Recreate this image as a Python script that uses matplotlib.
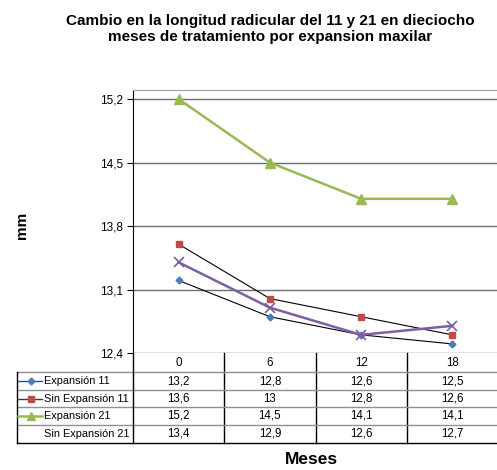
import matplotlib.pyplot as plt
from matplotlib.transforms import blended_transform_factory

plt.rcParams['font.family'] = ['Liberation Sans', 'DejaVu Sans']

# datos
meses = ['0', '6', '12', '18']
exp_11 = [13.2, 12.8, 12.6, 12.5]
sin_exp_11 = [13.6, 13.0, 12.8, 12.6]
exp_21 = [15.2, 14.5, 14.1, 14.1]
sin_exp_21 = [13.4, 12.9, 12.6, 12.7]
series = ['Expansión 11', 'Sin Expansión 11', 'Expansión 21', 'Sin Expansión 21']
yticks = [12.4, 13.1, 13.8, 14.5, 15.2]

W, H = 497, 470
fig = plt.figure(figsize=(W / 100, H / 100), dpi=100)


def fx(px):
    return px / W


def fy(py):
    return 1 - py / H


ax = fig.add_axes([fx(133), fy(353), fx(498) - fx(133), fy(90) - fy(353)])
x = range(len(meses))

ax.plot(x, exp_11, color='black', lw=0.8, marker='D', ms=3.5,
        mfc='#4A7EBB', mec='#4A7EBB', zorder=3)
ax.plot(x, sin_exp_11, color='black', lw=0.8, marker='s', ms=5,
        mfc='#BE4B48', mec='#BE4B48', zorder=3)
ax.plot(x, exp_21, color='#98B954', lw=1.8, marker='^', ms=7,
        mfc='#98B954', mec='#98B954', zorder=3)
ax.plot(x, sin_exp_21, color='#7D60A0', lw=1.8, marker='x', ms=7,
        mew=1.2, zorder=3)

ax.set_xlim(-0.5, len(meses) - 0.5)
ax.set_ylim(12.4, 15.3)
ax.set_yticks(yticks)
ax.set_yticklabels([f'{v:.1f}'.replace('.', ',') for v in yticks], fontsize=8.5)
ax.set_xticks([])
ax.yaxis.grid(True, color='#6e6e6e', lw=1)
ax.set_axisbelow(True)
ax.tick_params(axis='y', length=4, color='black', pad=3)
for s in ['right', 'bottom']:
    ax.spines[s].set_visible(False)
ax.spines['top'].set_color('#a0a0a0')
ax.spines['left'].set_color('black')

# tabla de datos bajo el eje
tr = blended_transform_factory(ax.transData, fig.transFigure)
rows_y = [372, 390, 407, 425, 443]
cols_x = [0.5, 1.5, 2.5]

for yy in rows_y:
    c = 'black' if yy == rows_y[-1] else '#909090'
    fig.add_artist(plt.Line2D([fx(17), 1], [fy(yy), fy(yy)], color=c, lw=1))
for cx in cols_x:
    ax.plot([cx, cx], [fy(353), fy(443)], transform=tr, color='black',
            lw=1, clip_on=False)
fig.add_artist(plt.Line2D([fx(17), fx(17)], [fy(372), fy(443)], color='black', lw=1))
fig.add_artist(plt.Line2D([fx(133), fx(133)], [fy(353), fy(443)], color='black', lw=1))

for i, m in enumerate(meses):
    ax.text(i, fy(363), m, transform=tr, ha='center', va='center', fontsize=8.3)

datos = [exp_11, sin_exp_11, exp_21, sin_exp_21]
claves = [('#2F4F7F', dict(marker='D', ms=3.5, mfc='#4A7EBB', mec='#4A7EBB')),
          ('#3a3a3a', dict(marker='s', ms=5, mfc='#BE4B48', mec='#BE4B48')),
          ('#98B954', dict(marker='^', ms=6, mfc='#98B954', mec='#98B954')),
          None]
for r, (nombre, vals, clave) in enumerate(zip(series, datos, claves)):
    yc = fy((rows_y[r] + rows_y[r + 1]) / 2)
    for i, v in enumerate(vals):
        txt = f'{v:g}'.replace('.', ',')
        ax.text(i, yc, txt, transform=tr, ha='center', va='center', fontsize=8.3)
    if clave is not None:
        color, mk = clave
        lw = 1.8 if color == '#98B954' else 1
        fig.add_artist(plt.Line2D([fx(18), fx(42)], [yc, yc], lw=lw, color=color))
        fig.add_artist(plt.Line2D([fx(30.5)], [yc], lw=0, **mk))
    fig.text(fx(44), yc, nombre, ha='left', va='center', fontsize=7.9)

fig.text(fx(270), fy(29), 'Cambio en la longitud radicular del 11 y 21 en dieciocho\n'
         'meses de tratamiento por expansion maxilar',
         ha='center', va='center', fontsize=11, fontweight='bold', linespacing=1.25)
fig.text(fx(22), fy(225), 'mm', rotation=90, ha='center', va='center',
         fontsize=11, fontweight='bold')
fig.text(fx(311), fy(459), 'Meses', ha='center', va='center',
         fontsize=12.5, fontweight='bold')

plt.savefig('out.png', dpi=100)
